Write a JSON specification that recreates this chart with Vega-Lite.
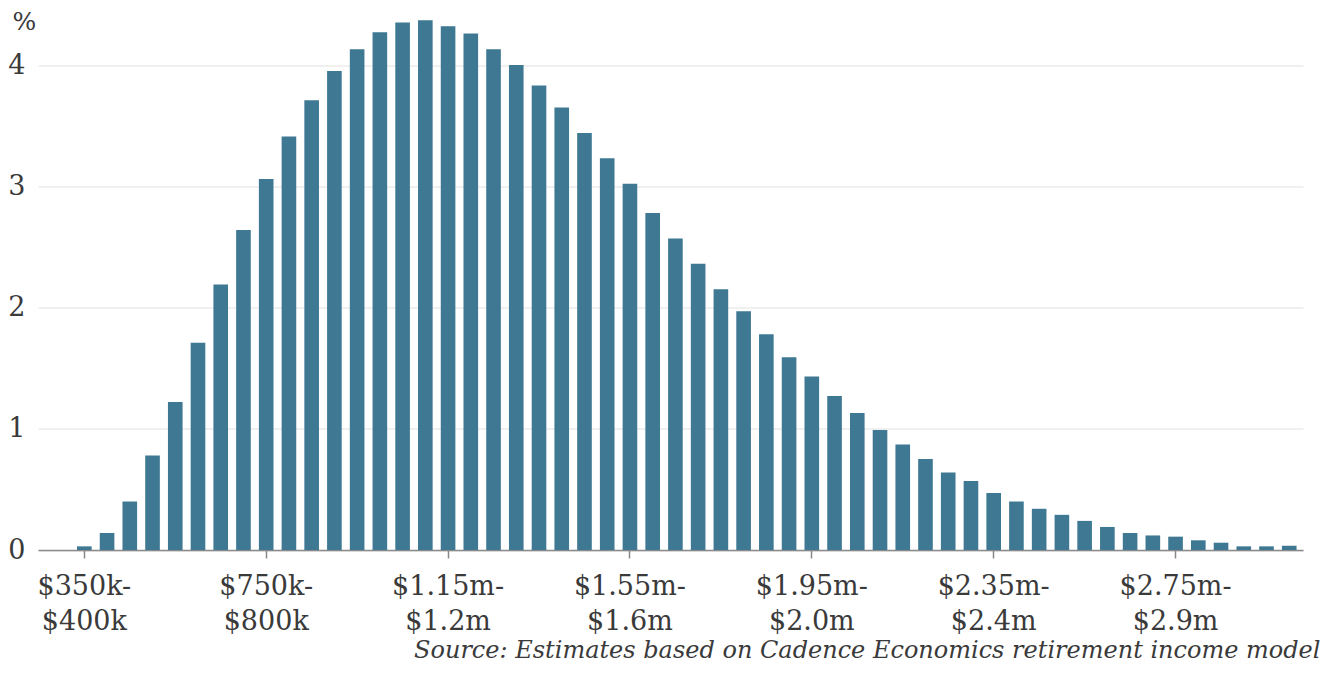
{
  "$schema": "https://vega.github.io/schema/vega-lite/v6.json",
  "autosize": {"type": "none"},
  "width": 1265,
  "height": 533.5,
  "padding": {"left": 38, "top": 16.5, "right": 21, "bottom": 127},
  "background": "white",
  "config": {
    "view": {"stroke": null},
    "font": "DejaVu Serif"
  },
  "data": {
    "values": [
      {"bin": "$350k-$400k", "pct": 0.03},
      {"bin": "$400k-$450k", "pct": 0.14},
      {"bin": "$450k-$500k", "pct": 0.40},
      {"bin": "$500k-$550k", "pct": 0.78},
      {"bin": "$550k-$600k", "pct": 1.22},
      {"bin": "$600k-$650k", "pct": 1.71},
      {"bin": "$650k-$700k", "pct": 2.19},
      {"bin": "$700k-$750k", "pct": 2.64},
      {"bin": "$750k-$800k", "pct": 3.06},
      {"bin": "$800k-$850k", "pct": 3.41},
      {"bin": "$850k-$900k", "pct": 3.71},
      {"bin": "$900k-$950k", "pct": 3.95},
      {"bin": "$950k-$1.0m", "pct": 4.13},
      {"bin": "$1.0m-$1.05m", "pct": 4.27},
      {"bin": "$1.05m-$1.1m", "pct": 4.35},
      {"bin": "$1.1m-$1.15m", "pct": 4.37},
      {"bin": "$1.15m-$1.2m", "pct": 4.32},
      {"bin": "$1.2m-$1.25m", "pct": 4.26},
      {"bin": "$1.25m-$1.3m", "pct": 4.13},
      {"bin": "$1.3m-$1.35m", "pct": 4.00},
      {"bin": "$1.35m-$1.4m", "pct": 3.83},
      {"bin": "$1.4m-$1.45m", "pct": 3.65},
      {"bin": "$1.45m-$1.5m", "pct": 3.44},
      {"bin": "$1.5m-$1.55m", "pct": 3.23},
      {"bin": "$1.55m-$1.6m", "pct": 3.02},
      {"bin": "$1.6m-$1.65m", "pct": 2.78},
      {"bin": "$1.65m-$1.7m", "pct": 2.57},
      {"bin": "$1.7m-$1.75m", "pct": 2.36},
      {"bin": "$1.75m-$1.8m", "pct": 2.15},
      {"bin": "$1.8m-$1.85m", "pct": 1.97},
      {"bin": "$1.85m-$1.9m", "pct": 1.78},
      {"bin": "$1.9m-$1.95m", "pct": 1.59},
      {"bin": "$1.95m-$2.0m", "pct": 1.43},
      {"bin": "$2.0m-$2.05m", "pct": 1.27},
      {"bin": "$2.05m-$2.1m", "pct": 1.13},
      {"bin": "$2.1m-$2.15m", "pct": 0.99},
      {"bin": "$2.15m-$2.2m", "pct": 0.87},
      {"bin": "$2.2m-$2.25m", "pct": 0.75},
      {"bin": "$2.25m-$2.3m", "pct": 0.64},
      {"bin": "$2.3m-$2.35m", "pct": 0.57},
      {"bin": "$2.35m-$2.4m", "pct": 0.47},
      {"bin": "$2.4m-$2.45m", "pct": 0.40},
      {"bin": "$2.45m-$2.5m", "pct": 0.34},
      {"bin": "$2.5m-$2.55m", "pct": 0.29},
      {"bin": "$2.55m-$2.6m", "pct": 0.24},
      {"bin": "$2.6m-$2.65m", "pct": 0.19},
      {"bin": "$2.65m-$2.7m", "pct": 0.14},
      {"bin": "$2.7m-$2.75m", "pct": 0.12},
      {"bin": "$2.75m-$2.9m", "pct": 0.11},
      {"bin": "$2.8m-$2.85m", "pct": 0.08},
      {"bin": "$2.85m-$2.9m", "pct": 0.06},
      {"bin": "$2.9m-$2.95m", "pct": 0.03},
      {"bin": "$2.95m-$3.0m", "pct": 0.03},
      {"bin": "$3.0m-$3.05m", "pct": 0.035}
    ]
  },
  "mark": {"type": "bar", "color": "#3e7893"},
  "encoding": {
    "x": {
      "field": "bin",
      "type": "ordinal",
      "sort": null,
      "scale": {"paddingInner": 0.357, "paddingOuter": 1.046, "align": 0.858},
      "axis": {
        "values": ["$350k-$400k", "$750k-$800k", "$1.15m-$1.2m", "$1.55m-$1.6m", "$1.95m-$2.0m", "$2.35m-$2.4m", "$2.75m-$2.9m"],
        "labelExpr": "[split(datum.value, '-')[0] + '-', split(datum.value, '-')[1]]",
        "labelAngle": 0,
        "labelFont": "DejaVu Serif",
        "labelFontSize": 27,
        "labelColor": "#3a3a3a",
        "labelLineHeight": 35,
        "labelBaseline": "top",
        "labelPadding": 15,
        "labelAlign": "center",
        "tickSize": 8,
        "tickColor": "#888888",
        "tickWidth": 1.5,
        "domainColor": "#8a8a8a",
        "domainWidth": 1.5,
        "grid": false,
        "title": "Source: Estimates based on Cadence Economics retirement income model",
        "titleFont": "DejaVu Serif",
        "titleFontStyle": "italic",
        "titleFontWeight": "normal",
        "titleFontSize": 24,
        "titleColor": "#3a3a3a",
        "titleAlign": "right",
        "titleAnchor": "end",
        "titleBaseline": "alphabetic",
        "titleX": 1282,
        "titleY": 107
      }
    },
    "y": {
      "field": "pct",
      "type": "quantitative",
      "scale": {"domain": [0, 4.4], "nice": false},
      "axis": {
        "values": [0, 1, 2, 3, 4],
        "domain": false,
        "ticks": false,
        "tickSize": 0,
        "labelPadding": 13,
        "labelFont": "DejaVu Serif",
        "labelFontSize": 27,
        "labelColor": "#3a3a3a",
        "gridColor": "#e2e2e2",
        "gridWidth": 1.2,
        "title": "%",
        "titleAngle": 0,
        "titleFont": "DejaVu Serif",
        "titleFontSize": 25,
        "titleFontWeight": "normal",
        "titleColor": "#3a3a3a",
        "titleAlign": "left",
        "titleBaseline": "top",
        "titleX": -26,
        "titleY": -7
      }
    }
  }
}
